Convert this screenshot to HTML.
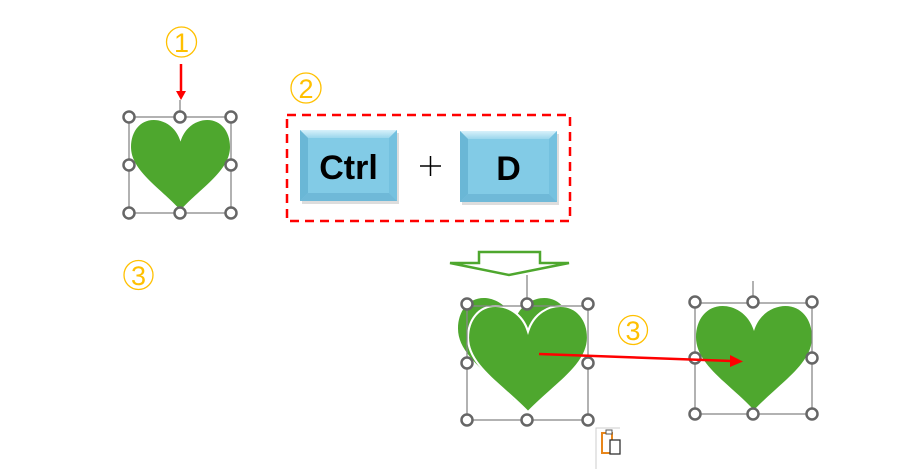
<!DOCTYPE html>
<html><head><meta charset="utf-8"><style>
html,body{margin:0;padding:0;background:#fff;}
svg{display:block;}
</style></head><body>
<svg width="900" height="469" viewBox="0 0 900 469" xmlns="http://www.w3.org/2000/svg">
<defs>
<path id="h" d="M0.5,0.24 C0.45,0.06 0.32,0 0.23,0 C0.09,0 0,0.13 0,0.3 C0,0.56 0.28,0.74 0.5,1 C0.72,0.74 1,0.56 1,0.3 C1,0.13 0.91,0 0.77,0 C0.68,0 0.55,0.06 0.5,0.24 Z"/>
<g id="hd"><circle r="5.5" fill="#fff" stroke="#666" stroke-width="2.5"/></g>
<linearGradient id="kt" x1="0" y1="0" x2="0" y2="1"><stop offset="0" stop-color="#d8f1fb"/><stop offset="1" stop-color="#9bd6ec"/></linearGradient>
</defs>
<g fill="none" stroke="#FFC000" stroke-width="1.3">
<circle cx="181.5" cy="42" r="15"/><circle cx="306" cy="88" r="15"/>
<circle cx="138.5" cy="275" r="14.5"/><circle cx="633" cy="330" r="14.5"/>
</g>
<g fill="#FFC000" font-family="Liberation Sans, sans-serif" font-size="27" text-anchor="middle">
<text x="181.5" y="52">1</text><text x="306" y="98">2</text>
<text x="138.5" y="285">3</text><text x="633" y="340">3</text>
</g>
<line x1="181" y1="64" x2="181" y2="92" stroke="#f00" stroke-width="2.5"/>
<polygon points="176,91 186,91 181,100" fill="#f00"/>
<line x1="180" y1="100" x2="180" y2="117" stroke="#888" stroke-width="1.3"/>
<use href="#h" transform="translate(131,120) scale(99,90)" fill="#4ea72e"/>
<rect x="129" y="117" width="102" height="96" fill="none" stroke="#888" stroke-width="1.3"/>
<use href="#hd" x="129" y="117"/><use href="#hd" x="180" y="117"/><use href="#hd" x="231" y="117"/>
<use href="#hd" x="129" y="165"/><use href="#hd" x="231" y="165"/>
<use href="#hd" x="129" y="213"/><use href="#hd" x="180" y="213"/><use href="#hd" x="231" y="213"/>
<rect x="287" y="115" width="283" height="106" fill="none" stroke="#f00" stroke-width="2.5" stroke-dasharray="9,6"/>
<g>
<rect x="302" y="133" width="97" height="71" fill="#bbb" opacity="0.5"/>
<rect x="300" y="130" width="97" height="71" fill="#82cbe6"/>
<polygon points="300,130 397,130 389,138 308,138" fill="url(#kt)"/>
<polygon points="300,130 308,138 308,193 300,201" fill="#6ab7d6"/>
<polygon points="397,130 389,138 389,193 397,201" fill="#74c1df"/>
<polygon points="300,201 308,193 389,193 397,201" fill="#6fb9d8"/>
<text x="348.5" y="179" font-family="Liberation Sans, sans-serif" font-weight="bold" font-size="34" text-anchor="middle" fill="#000">Ctrl</text>
</g>
<g>
<rect x="462" y="134" width="97" height="71" fill="#bbb" opacity="0.5"/>
<rect x="460" y="131" width="97" height="71" fill="#82cbe6"/>
<polygon points="460,131 557,131 549,139 468,139" fill="url(#kt)"/>
<polygon points="460,131 468,139 468,194 460,202" fill="#6ab7d6"/>
<polygon points="557,131 549,139 549,194 557,202" fill="#74c1df"/>
<polygon points="460,202 468,194 549,194 557,202" fill="#6fb9d8"/>
<text x="508.5" y="180" font-family="Liberation Sans, sans-serif" font-weight="bold" font-size="34" text-anchor="middle" fill="#000">D</text>
</g>
<line x1="420" y1="166" x2="441" y2="166" stroke="#000" stroke-width="1.5"/>
<line x1="430.5" y1="156" x2="430.5" y2="176" stroke="#000" stroke-width="1.5"/>
<polygon points="479,252 540,252 540,263 569,263 509,275 450,263 479,263" fill="none" stroke="#4ea72e" stroke-width="2.5"/>
<line x1="527" y1="275" x2="527" y2="306" stroke="#888" stroke-width="1.3"/>
<use href="#h" transform="translate(458,298) scale(112,102)" fill="#4ea72e"/>
<use href="#h" transform="translate(468,306) scale(120,106)" fill="#4ea72e" stroke="#fff" stroke-width="0.018"/>
<rect x="467" y="306" width="121" height="114" fill="none" stroke="#888" stroke-width="1.3"/>
<use href="#hd" x="467" y="304"/><use href="#hd" x="527" y="304"/><use href="#hd" x="588" y="304"/>
<use href="#hd" x="467" y="363"/><use href="#hd" x="588" y="363"/>
<use href="#hd" x="467" y="420"/><use href="#hd" x="527" y="420"/><use href="#hd" x="588" y="420"/>
<line x1="753" y1="281" x2="753" y2="302" stroke="#888" stroke-width="1.3"/>
<use href="#h" transform="translate(696,306) scale(116,104)" fill="#4ea72e"/>
<rect x="695" y="303" width="117" height="111" fill="none" stroke="#888" stroke-width="1.3"/>
<use href="#hd" x="695" y="302"/><use href="#hd" x="753" y="302"/><use href="#hd" x="812" y="302"/>
<use href="#hd" x="695" y="358"/><use href="#hd" x="812" y="358"/>
<use href="#hd" x="695" y="414"/><use href="#hd" x="753" y="414"/><use href="#hd" x="812" y="414"/>
<line x1="539" y1="354" x2="732" y2="361" stroke="#f00" stroke-width="2.5"/>
<polygon points="730,355 743,361.5 730,367" fill="#f00"/>
<path d="M596,469 V428 H620" fill="none" stroke="#ccc" stroke-width="1"/>
<rect x="602" y="433" width="10" height="20" fill="none" stroke="#e8861b" stroke-width="2"/>
<rect x="606" y="430" width="6" height="4" fill="#fff" stroke="#555" stroke-width="1"/>
<rect x="610" y="440" width="10" height="14" fill="#fff" stroke="#333" stroke-width="1.3"/>
</svg>
</body></html>
